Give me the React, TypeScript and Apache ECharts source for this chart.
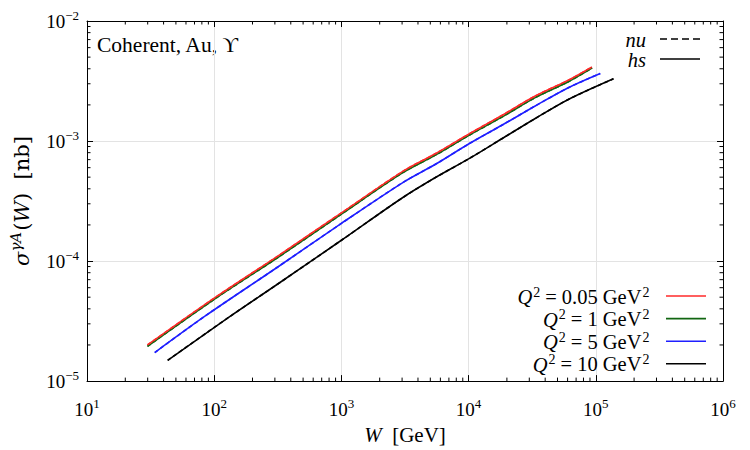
import React, { useEffect, useRef } from "react";
import * as echarts from "echarts";

const FONT = '"Liberation Serif", "DejaVu Serif", serif';
const WIDE_FONT = '"DejaVu Serif", "Liberation Serif", serif';

// W [GeV] and sigma [nb]
const W_Q005 = [29.9, 100, 316, 1000, 3062, 5572, 10000, 18400, 33400, 60800, 93300];
const S_Q005 = [2.0e-5, 4.91e-5, 1.1e-4, 2.52e-4, 5.62e-4, 7.91e-4, 1.14e-3, 1.64e-3, 2.37e-3, 3.21e-3, 4.14e-3];
const W_Q1 = [29.9, 100, 316, 1000, 3062, 5572, 10000, 18400, 33400, 60800, 93300];
const S_Q1 = [1.95e-5, 4.8e-5, 1.07e-4, 2.46e-4, 5.48e-4, 7.7e-4, 1.11e-3, 1.59e-3, 2.3e-3, 3.12e-3, 4.05e-3];
const W_Q5 = [34.1, 85.1, 316, 1000, 3062, 5572, 10000, 18400, 33400, 60800, 108400];
const S_Q5 = [1.73e-5, 3.49e-5, 8.93e-5, 2.06e-4, 4.53e-4, 6.46e-4, 9.44e-4, 1.36e-3, 1.96e-3, 2.78e-3, 3.65e-3];
const W_Q10 = [43.1, 129, 316, 1000, 3062, 5572, 10000, 18400, 33400, 60800, 137700];
const S_Q10 = [1.49e-5, 3.38e-5, 6.44e-5, 1.49e-4, 3.4e-4, 5.01e-4, 7.1e-4, 1.05e-3, 1.54e-3, 2.22e-3, 3.3e-3];

const Q2_LABELS = ["0.05", "1", "5", "10"];
const COLORS = ["#ff2a2a", "#116611", "#1f1fff", "#000000"];
const X_DECADES = [1, 2, 3, 4, 5];
const Y_DECADES = [-5, -4, -3];
const MINOR_MULTS = [2, 3, 4, 5, 6, 7, 8, 9];

const CURVES_W = [W_Q005, W_Q1, W_Q5, W_Q10];
const CURVES_S = [S_Q005, S_Q1, S_Q5, S_Q10];

const SOLID_ICON = "path://M0 0h40v1.6h-40z";
const DASH_ICON = "path://M0 0h7v1.6h-7z M11 0h7v1.6h-7z M22 0h7v1.6h-7z M33 0h7v1.6h-7z";

function pairs(w: number[], s: number[]) {
  return w.map((x, i) => [x, s[i]]);
}

function powLabel(v: number) {
  const e = Math.round(Math.log10(v));
  const es = e < 0 ? "\u2212" + -e : String(e);
  return `{b|10}{e|${es}}`;
}

const richLabel = {
  b: { fontFamily: FONT, fontSize: 19, color: "#000", verticalAlign: "bottom", lineHeight: 20 },
  e: { fontFamily: FONT, fontSize: 13, color: "#000", verticalAlign: "bottom", lineHeight: 13, padding: [0, 0, 9, 0] },
};

export default function App() {
  const ref = useRef<HTMLDivElement>(null);
  useEffect(() => {
    if (!ref.current) return;
    const chart = echarts.init(ref.current, undefined, { renderer: "svg" });

    const series: any[] = [];
    const order = [3, 2, 1, 0];
    order.forEach((i) => {
      series.push({
        name: "Q" + i,
        type: "line",
        data: pairs(CURVES_W[i], CURVES_S[i]),
        showSymbol: false,
        symbol: "none",
        smooth: 0.3,
        lineStyle: { color: COLORS[i], width: 1.6, type: "solid" },
        itemStyle: { color: COLORS[i] },
        z: 3,
      });
      series.push({
        name: "nu" + i,
        type: "line",
        data: pairs(CURVES_W[i], CURVES_S[i]),
        showSymbol: false,
        symbol: "none",
        smooth: 0.3,
        lineStyle: { color: COLORS[i], width: 1.6, type: [4, 3] },
        itemStyle: { color: COLORS[i] },
        z: 4,
      });
    });
    series.push({
      name: "nu",
      type: "line",
      data: [],
      symbol: "none",
      lineStyle: { color: "#000", width: 1.5, type: [5, 3] },
      itemStyle: { color: "#000" },
    });
    series.push({
      name: "hs",
      type: "line",
      data: [],
      symbol: "none",
      lineStyle: { color: "#000", width: 1.5, type: "solid" },
      itemStyle: { color: "#000" },
    });

    // minor ticks (log positions) via the axes' scales
    const minorData: number[][] = [];
    X_DECADES.forEach((k) =>
      MINOR_MULTS.forEach((m) => minorData.push([m * Math.pow(10, k), 1e-4, 0]))
    );
    Y_DECADES.forEach((k) =>
      MINOR_MULTS.forEach((m) => minorData.push([100, m * Math.pow(10, k), 1]))
    );
    series.push({
      name: "minor",
      type: "custom",
      silent: true,
      clip: false,
      data: minorData,
      z: 5,
      renderItem: (params: any, api: any) => {
        const cs = params.coordSys;
        const p = api.coord([api.value(0), api.value(1)]);
        const L = 3.5;
        const st = { stroke: "#000", lineWidth: 1 };
        if (api.value(2) === 0) {
          const b = cs.y + cs.height;
          return {
            type: "group",
            children: [
              { type: "line", shape: { x1: p[0], y1: b, x2: p[0], y2: b - L }, style: st },
              { type: "line", shape: { x1: p[0], y1: cs.y, x2: p[0], y2: cs.y + L }, style: st },
            ],
          };
        }
        const r = cs.x + cs.width;
        return {
          type: "group",
          children: [
            { type: "line", shape: { x1: cs.x, y1: p[1], x2: cs.x + L, y2: p[1] }, style: st },
            { type: "line", shape: { x1: r, y1: p[1], x2: r - L, y2: p[1] }, style: st },
          ],
        };
      },
    });

    const legendRich = {
      t: { fontFamily: FONT, fontSize: 20.5, color: "#000", verticalAlign: "bottom", lineHeight: 22 },
      q: { fontFamily: FONT, fontSize: 20.5, color: "#000", verticalAlign: "bottom", lineHeight: 22, padding: [0, 5, 0, 5] },
      i: { fontFamily: FONT, fontSize: 20.5, fontStyle: "italic", color: "#000", verticalAlign: "bottom", lineHeight: 22 },
      s: { fontFamily: FONT, fontSize: 14, color: "#000", verticalAlign: "bottom", lineHeight: 13, padding: [0, 0, 8, 1] },
      g: { width: 9 },
    };

    const nameRich = {
      t: { fontFamily: FONT, fontSize: 21, color: "#000", verticalAlign: "bottom", lineHeight: 22 },
      i: { fontFamily: FONT, fontSize: 21, fontStyle: "italic", color: "#000", verticalAlign: "bottom", lineHeight: 22 },
      s: { fontFamily: FONT, fontSize: 14, color: "#000", verticalAlign: "bottom", lineHeight: 14, padding: [0, 1, 9, 0] },
    };

    const yNameRich = {
      t: { fontFamily: WIDE_FONT, fontSize: 21, color: "#000", verticalAlign: "bottom", lineHeight: 22 },
      i: { fontFamily: WIDE_FONT, fontSize: 21, fontStyle: "italic", color: "#000", verticalAlign: "bottom", lineHeight: 22 },
      s: { fontFamily: WIDE_FONT, fontSize: 15, fontStyle: "italic", color: "#000", verticalAlign: "bottom", lineHeight: 14, padding: [0, 1, 9, 0] },
    };

    const axisBase = {
      type: "log",
      logBase: 10,
      axisLine: { show: true, lineStyle: { color: "#000", width: 1 } },
      axisTick: { show: true, inside: true, length: 6, lineStyle: { color: "#000" } },
    };

    chart.setOption({
      animation: false,
      backgroundColor: "#fff",
      grid: { left: 80.5, right: 27, top: 21, bottom: 66, containLabel: false },
      xAxis: [
        {
          ...axisBase,
          position: "bottom",
          min: 10,
          max: 1e6,
          name: "{i|W}{t|  [GeV]}",
          nameLocation: "middle",
          nameGap: 40,
          nameTextStyle: { rich: nameRich },
          axisLabel: { formatter: powLabel, rich: richLabel, margin: 18 },
          splitLine: { show: true, lineStyle: { color: "#e3e3e3", width: 1 } },
        },
        {
          ...axisBase,
          position: "top",
          min: 10,
          max: 1e6,
          axisLabel: { show: false },
          splitLine: { show: false },
        },
      ],
      yAxis: [
        {
          ...axisBase,
          position: "left",
          min: 1e-5,
          max: 1e-2,
          name: "{i|σ}{s|γA}{t|(}{i|W}{t|)  [nb]}",
          nameLocation: "middle",
          nameRotate: 90,
          nameGap: 55,
          nameTextStyle: { rich: yNameRich },
          axisLabel: { formatter: powLabel, rich: richLabel, margin: 8 },
          splitLine: { show: true, lineStyle: { color: "#e3e3e3", width: 1 } },
        },
        {
          ...axisBase,
          position: "right",
          min: 1e-5,
          max: 1e-2,
          axisLabel: { show: false },
          splitLine: { show: false },
        },
      ],
      legend: [
        {
          data: [
            { name: "nu", icon: DASH_ICON },
            { name: "hs", icon: SOLID_ICON },
          ],
          orient: "vertical",
          right: 45,
          top: 25,
          align: "right",
          itemWidth: 40,
          itemHeight: 1.6,
          itemGap: 0,
          selectedMode: false,
          formatter: (n: string) => `{i|${n}}{g|}`,
          textStyle: { rich: legendRich },
        },
        {
          data: ["Q0", "Q1", "Q2", "Q3"].map((n) => ({ name: n, icon: SOLID_ICON })),
          orient: "vertical",
          right: 39,
          top: 280,
          align: "right",
          itemWidth: 45,
          itemHeight: 1.6,
          itemGap: 0.6,
          selectedMode: false,
          formatter: (n: string) => {
            const i = Number(n.slice(1));
            return `{i|Q}{s|2}{q|=}{t|${Q2_LABELS[i]} GeV}{s|2}{g|}`;
          },
          textStyle: { rich: legendRich },
        },
      ],
      graphic: [
        {
          type: "text",
          left: 97,
          top: 34,
          style: { text: "Coherent, Au, \u03D2", font: `21.5px ${FONT}`, fill: "#000" },
        },
      ],
      series,
    });
    return () => chart.dispose();
  }, []);
  return (
    <div
      ref={ref}
      style={{ position: "fixed", left: 0, top: 0, width: 750, height: 450 }}
    />
  );
}
